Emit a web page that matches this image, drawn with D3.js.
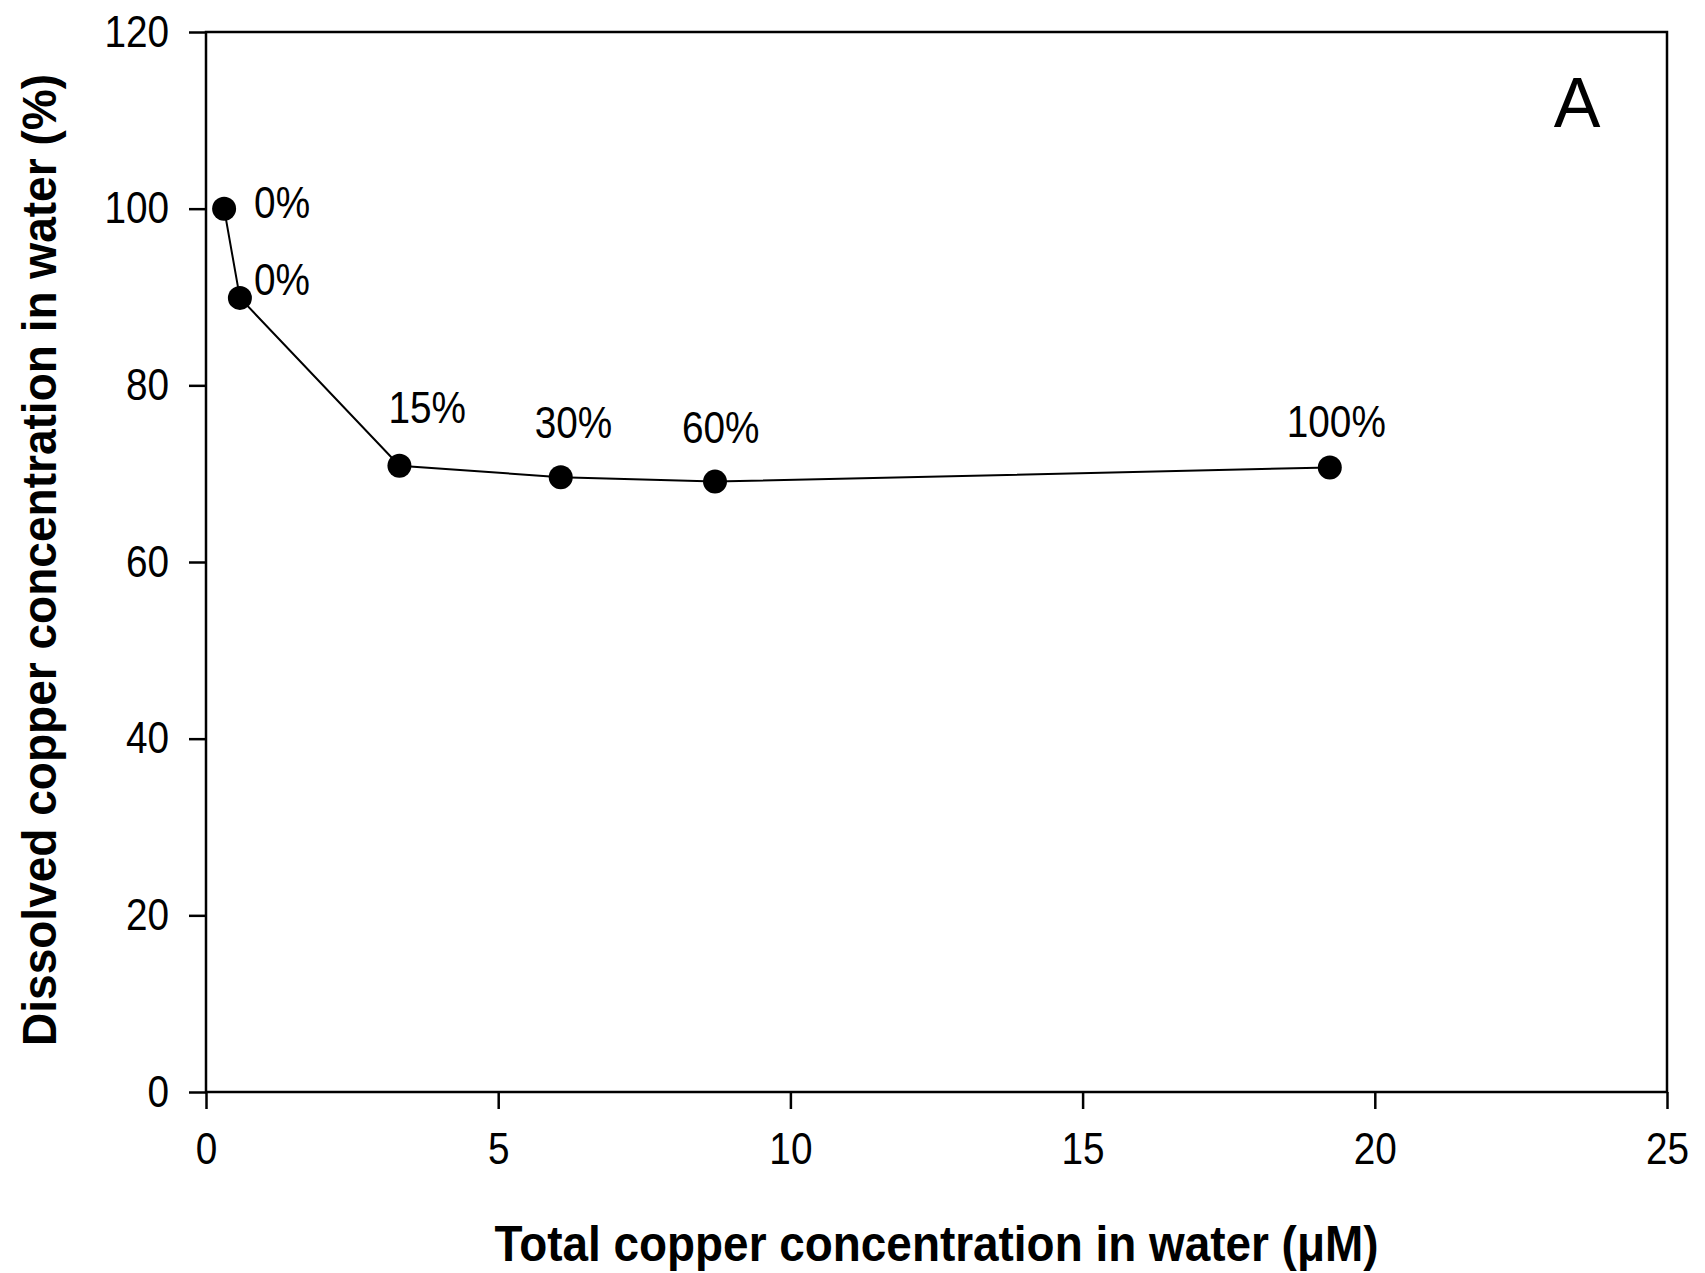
<!DOCTYPE html>
<html>
<head>
<meta charset="utf-8">
<script src="https://cdn.jsdelivr.net/npm/d3@7"></script>
<style>
  html, body { margin: 0; padding: 0; background: #fff; }
  svg { display: block; }
  text { font-family: "Liberation Sans", Arial, sans-serif; fill: #000; }
</style>
</head>
<body>
<svg id="chart" width="1705" height="1273"></svg>
<script>
// Total copper (µM) vs. dissolved fraction (%)
const totalCopper = [0.31, 0.58, 3.31, 6.07, 8.71, 19.23];
const dissolvedPct = [100.0, 89.9, 70.9, 69.6, 69.1, 70.7];
const pointLabels = ["0%", "0%", "15%", "30%", "60%", "100%"];
// label placement relative to each marker (left edge, baseline), px
const labelOffsets = [[30, 9], [14, -3], [-11, -43], [-26, -39], [-33, -39], [-43, -30]];
const xTicks = [0, 5, 10, 15, 20, 25];
const yTicks = [0, 20, 40, 60, 80, 100, 120];
const panelLetter = "A";
const xTitle = "Total copper concentration in water (\u03BCM)";
const yTitle = "Dissolved copper concentration in water (%)";

const W = 1705, H = 1273;
const plot = { left: 206, right: 1667, top: 32, bottom: 1092 };
const SX = 0.88;       // horizontal squeeze of the label face
const FS = 44;         // label font size

const svg = d3.select("#chart");
const x = d3.scaleLinear().domain([0, 25]).range([plot.left, plot.right]);
const y = d3.scaleLinear().domain([0, 120]).range([plot.bottom, plot.top]);

// frame
svg.append("rect")
  .attr("x", plot.left).attr("y", plot.top)
  .attr("width", plot.right - plot.left).attr("height", plot.bottom - plot.top)
  .attr("fill", "none").attr("stroke", "#000").attr("stroke-width", 2.5);

function squeeze(sel) {
  sel.selectAll(".tick text").each(function () {
    const t = d3.select(this);
    const xv = +t.attr("x") || 0;
    t.attr("x", xv / SX).attr("transform", `scale(${SX},1)`)
      .style("font-size", FS + "px")
      .style("font-family", "'Liberation Sans', Arial, sans-serif");
  });
}

const xAxis = svg.append("g")
  .attr("transform", `translate(0,${plot.bottom})`)
  .call(d3.axisBottom(x).tickValues(xTicks).tickSize(17).tickPadding(24).tickFormat(d3.format("d")));
const yAxis = svg.append("g")
  .attr("transform", `translate(${plot.left},0)`)
  .call(d3.axisLeft(y).tickValues(yTicks).tickSize(17).tickPadding(20).tickFormat(d3.format("d")));

[xAxis, yAxis].forEach(g => {
  g.select(".domain").remove();
  g.selectAll(".tick line").attr("stroke", "#000").attr("stroke-width", 2.5);
  squeeze(g);
});

// connecting line
const pts = totalCopper.map((v, i) => [v, dissolvedPct[i]]);
svg.append("path")
  .datum(pts)
  .attr("d", d3.line().x(d => x(d[0])).y(d => y(d[1])))
  .attr("fill", "none").attr("stroke", "#000").attr("stroke-width", 2);

// markers
svg.append("g").selectAll("circle")
  .data(pts).join("circle")
  .attr("cx", d => x(d[0])).attr("cy", d => y(d[1]))
  .attr("r", 12).attr("fill", "#000");

// point labels
svg.append("g").selectAll("text")
  .data(pts).join("text")
  .attr("transform", (d, i) => `translate(${x(d[0]) + labelOffsets[i][0]},${y(d[1]) + labelOffsets[i][1]}) scale(${SX},1)`)
  .style("font-size", FS + "px")
  .text((d, i) => pointLabels[i]);

// panel letter
svg.append("text")
  .attr("x", 1577).attr("y", 127)
  .attr("text-anchor", "middle")
  .style("font-size", "70px")
  .text(panelLetter);

// axis titles
svg.append("text")
  .attr("x", (plot.left + plot.right) / 2).attr("y", 1261)
  .attr("text-anchor", "middle")
  .attr("textLength", 884).attr("lengthAdjust", "spacingAndGlyphs")
  .style("font-size", "50px").style("font-weight", "bold")
  .text(xTitle);

svg.append("text")
  .attr("transform", `translate(56,${(plot.top + plot.bottom) / 2 - 2}) rotate(-90)`)
  .attr("text-anchor", "middle")
  .attr("textLength", 972).attr("lengthAdjust", "spacingAndGlyphs")
  .style("font-size", "48px").style("font-weight", "bold")
  .text(yTitle);
</script>
</body>
</html>
